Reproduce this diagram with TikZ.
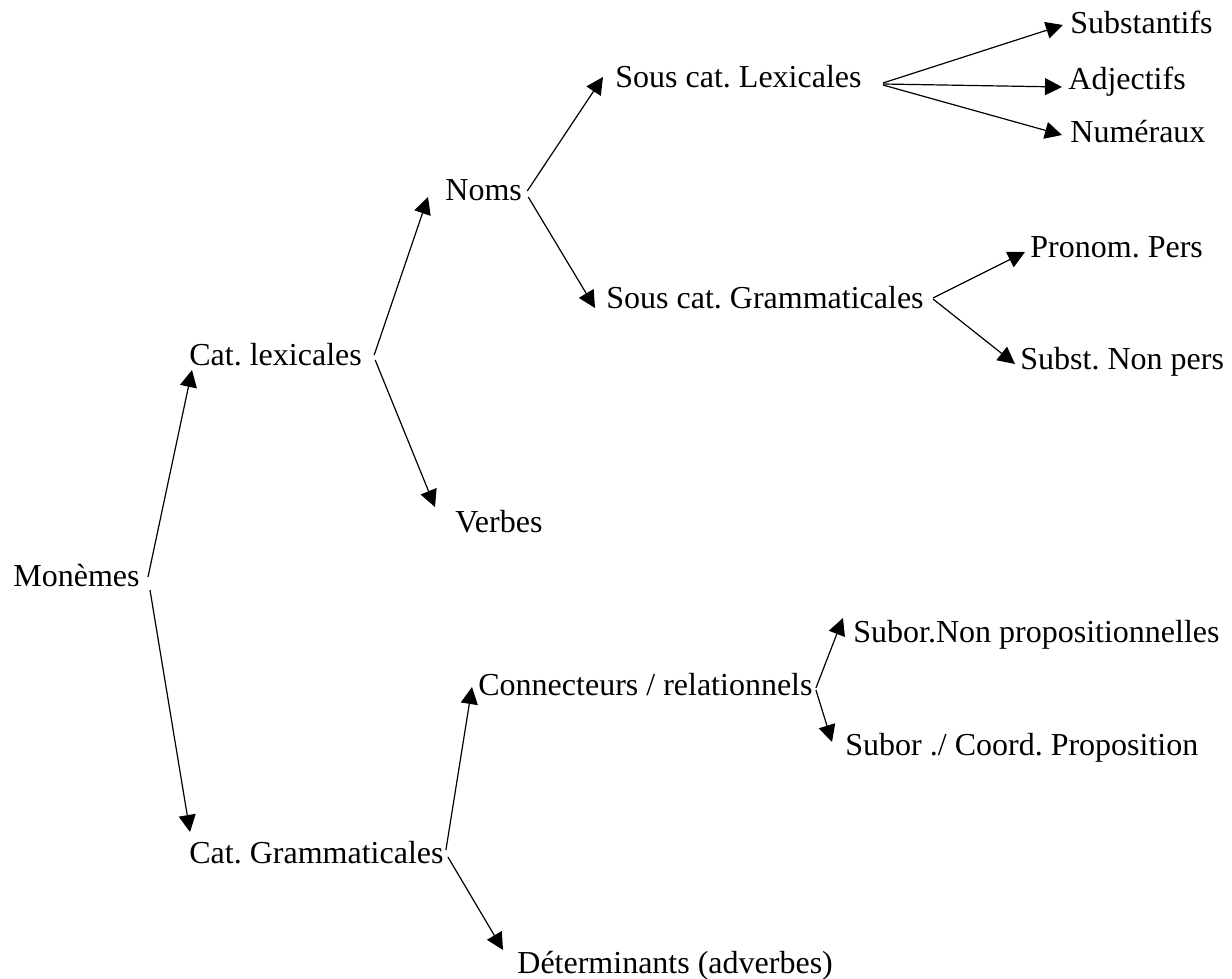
\documentclass[tikz,border=0pt]{standalone}
\usepackage{fontspec}
\setmainfont{Liberation Serif}
\frenchspacing
\usetikzlibrary{arrows.meta}
\begin{document}
\begin{tikzpicture}[x=0.5pt, y=-0.5pt,
  every node/.style={inner sep=0pt, anchor=base west, font=\fontsize{16}{19}\selectfont},
  arr/.style={-{Triangle[length=8.5pt,width=8.5pt]}, line width=0.6pt}]
\useasboundingbox (0,0) rectangle (1232,979);
% niveau 1 et 2
\node (mon) at (13,586) {Monèmes};
\node (catlex) at (189,365) {Cat. lexicales};
\node (catgram) at (189,863) {Cat. Grammaticales};
% niveau 3
\node (noms) at (445,200) {Noms};
\node (verbes) at (455,532) {Verbes};
\node (connect) at (478,695) {Connecteurs / relationnels};
\node (determ) at (517,973) {Déterminants (adverbes)};
% niveau 4
\node (souslex) at (615,88) {Sous cat. Lexicales};
\node (sousgram) at (606,308) {Sous cat. Grammaticales};
\node (subornon) at (853,642) {Subor.Non propositionnelles};
\node (suborcoord) at (845,755) {Subor ./ Coord. Proposition};
% niveau 5
\node (subst) at (1070,34) {Substantifs};
\node (adj) at (1068,90) {Adjectifs};
\node (num) at (1070,143) {Numéraux};
\node (pronom) at (1030,257) {Pronom. Pers};
\node (substnon) at (1020,369) {Subst. Non pers};

\draw[arr] ([shift={(8,-9)}]mon.base east) -- ([shift={(3,5)}]catlex.base west);
\draw[arr] ([shift={(10,4)}]mon.base east) -- ([shift={(1,-31)}]catgram.base west);
\draw[arr] ([shift={(12,-10)}]catlex.base east) -- ([shift={(-17,-3)}]noms.base west);
\draw[arr] ([shift={(13,-5)}]catlex.base east) -- ([shift={(-20,-25)}]verbes.base west);
\draw[arr] ([shift={(5,-9)}]noms.base east) -- ([shift={(-12,-11)}]souslex.base west);
\draw[arr] ([shift={(6,-3)}]noms.base east) -- ([shift={(-11,0)}]sousgram.base west);
\draw[arr] ([shift={(21,-5)}]souslex.base east) -- ([shift={(-7,-9)}]subst.base west);
\draw[arr] ([shift={(21,-4)}]souslex.base east) -- ([shift={(-6,-3)}]adj.base west);
\draw[arr] ([shift={(21,-3)}]souslex.base east) -- ([shift={(-8,-8)}]num.base west);
\draw[arr] ([shift={(9,-10)}]sousgram.base east) -- ([shift={(-5,-5)}]pronom.base west);
\draw[arr] ([shift={(9,-9)}]sousgram.base east) -- ([shift={(-5,-5)}]substnon.base west);
\draw[arr] ([shift={(2,-13)}]catgram.base east) -- ([shift={(-6,-8)}]connect.base west);
\draw[arr] ([shift={(4,-6)}]catgram.base east) -- ([shift={(-14,-23)}]determ.base west);
\draw[arr] ([shift={(3,-7)}]connect.base east) -- ([shift={(-10,-24)}]subornon.base west);
\draw[arr] ([shift={(3,-5)}]connect.base east) -- ([shift={(-13,-13)}]suborcoord.base west);
\end{tikzpicture}
\end{document}
